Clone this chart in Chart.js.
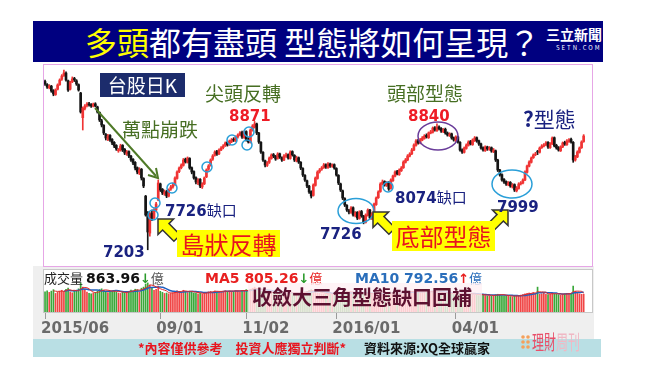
<!DOCTYPE html>
<html>
<head>
<meta charset="utf-8">
<script src="https://cdn.jsdelivr.net/npm/chart.js"></script>
<style>
  body { margin: 0; width: 650px; height: 366px; position: relative; background: #fff; overflow: hidden; font-family: "Noto Sans CJK TC", sans-serif; }
  .abs { position: absolute; white-space: nowrap; }
  .num { font-family: "DejaVu Sans", sans-serif; font-weight: bold; }
  .green { color: #466e22; font-size: 19px; line-height: 19px; }
  .navy { color: #1a2280; }
  .red { color: #ee1c25; }
  .ybox { background: #ffff00; color: #e8141e; font-size: 24px; line-height: 27px; text-align: center; }
</style>
</head>
<body>
<!-- title bar -->
<div class="abs" style="left:33px;top:21px;width:570px;height:41px;background:#000080;"></div>
<div class="abs" style="left:85px;top:21px;height:41px;line-height:41px;font-size:32px;color:#fff;"><span style="color:#ffff00">多頭</span>都有盡頭 型態將如何呈現？</div>
<div class="abs" style="left:546px;top:27px;font-size:14px;line-height:15px;font-weight:bold;color:#fff;">三立新聞</div>
<div class="abs" style="left:556px;top:44px;font-size:6px;line-height:7px;color:#fff;letter-spacing:2px;">SETN.COM</div>

<!-- background panels -->
<div class="abs" style="left:33px;top:266px;width:561px;height:73px;background:#efefef;"></div>
<div class="abs" style="left:43px;top:269px;width:550px;height:44px;background:#fff;"></div>
<div class="abs" style="left:33px;top:339px;width:568px;height:18px;background:#b9dfe4;"></div>

<canvas id="kChart" class="abs" width="547" height="200" style="left:44px;top:65px;"></canvas>
<canvas id="volChart" class="abs" width="569" height="68" style="left:33px;top:270px;"></canvas>

<div class="abs" style="left:43px;top:64px;width:550px;height:203px;border:1px solid #e6a6e6;box-sizing:border-box;"></div>
<div class="abs" style="left:43px;top:269px;width:550px;height:44px;border:1px solid #c8c8c8;box-sizing:border-box;"></div>

<!-- annotations -->
<svg class="abs" width="650" height="366" style="left:0;top:0;">
  <line x1="95" y1="108" x2="156" y2="176" stroke="#4f7a28" stroke-width="2"/>
  <polyline points="148,175 158,178 156,168" fill="none" stroke="#4f7a28" stroke-width="2"/>
  <g fill="none" stroke="#2a9fd8" stroke-width="1.5">
    <circle cx="153" cy="215" r="5"/>
    <circle cx="155" cy="203" r="5"/>
    <circle cx="172" cy="188" r="5"/>
    <circle cx="207" cy="167" r="5"/>
    <circle cx="232" cy="140" r="5"/>
    <circle cx="247" cy="145" r="5"/>
    <circle cx="249" cy="132" r="5"/>
    <circle cx="388" cy="187" r="5"/>
    <ellipse cx="356" cy="211" rx="18" ry="12.5"/>
    <ellipse cx="512" cy="184" rx="20" ry="14"/>
  </g>
  <ellipse cx="438" cy="136" rx="20" ry="14" fill="none" stroke="#6a3d9a" stroke-width="1.5"/>
  <g fill="#ffff00" stroke="#333" stroke-width="1.5">
    <polygon points="0,0 11,11 4.5,11 4.5,27 -4.5,27 -4.5,11 -11,11" transform="translate(158,219) rotate(-45)"/>
    <polygon points="0,0 11,11 4.5,11 4.5,27 -4.5,27 -4.5,11 -11,11" transform="translate(373,212) rotate(-45)"/>
    <polygon points="0,0 11,11 4.5,11 4.5,27 -4.5,27 -4.5,11 -11,11" transform="translate(508,210) rotate(45)"/>
  </g>
  <g fill="#f5a05a">
    <circle cx="523" cy="337" r="1.8"/><circle cx="528" cy="337" r="1.8"/>
    <circle cx="523" cy="342" r="1.8"/><circle cx="528" cy="342" r="1.8"/>
    <circle cx="523" cy="347" r="1.8"/><circle cx="528" cy="347" r="1.8"/>
  </g>
</svg>

<div class="abs" style="left:100px;top:73px;width:85px;height:24px;background:#1c2c6c;color:#fff;font-size:19px;line-height:24px;text-align:center;">台股日K</div>
<div class="abs green" style="left:122px;top:119px;">萬點崩跌</div>
<div class="abs green" style="left:205px;top:83px;">尖頭反轉</div>
<div class="abs green" style="left:387px;top:83px;">頭部型態</div>
<div class="abs num red" style="left:229px;top:107px;font-size:15px;">8871</div>
<div class="abs num red" style="left:408px;top:107px;font-size:15px;">8840</div>
<div class="abs navy" style="left:523px;top:107px;font-size:21px;line-height:22px;"><b>?</b>型態</div>
<div class="abs num navy" style="left:103px;top:243px;font-size:15px;">7203</div>
<div class="abs navy" style="left:165px;top:201px;font-size:15px;line-height:17px;"><span class="num">7726</span>缺口</div>
<div class="abs num navy" style="left:320px;top:225px;font-size:15px;">7726</div>
<div class="abs navy" style="left:395px;top:188px;font-size:15px;line-height:17px;"><span class="num">8074</span>缺口</div>
<div class="abs num navy" style="left:497px;top:198px;font-size:15px;">7999</div>
<div class="abs ybox" style="left:177px;top:230px;width:103px;height:27px;">島狀反轉</div>
<div class="abs ybox" style="left:392px;top:221px;width:103px;height:30px;line-height:30px;">底部型態</div>

<!-- volume header -->
<div class="abs" style="left:44px;top:271px;font-size:13px;line-height:14px;color:#222;">成交量 <span class="num" style="font-size:14px;color:#111;">863.96</span><span class="num" style="color:#2a9a2a;">↓</span><span style="color:#555;">億</span></div>
<div class="abs" style="left:205px;top:271px;font-size:13px;line-height:14px;color:#e82020;"><span class="num" style="font-size:14px;">MA5 805.26</span><span class="num" style="color:#2a9a2a;">↓</span>億</div>
<div class="abs" style="left:355px;top:271px;font-size:13px;line-height:14px;color:#2a6ebb;"><span class="num" style="font-size:14px;">MA10 792.56</span><span class="num" style="color:#e82020;">↑</span>億</div>
<div class="abs" style="left:248px;top:283px;width:234px;height:29px;background:rgba(255,240,244,0.8);"></div>
<div class="abs" style="left:252px;top:285px;font-size:20px;line-height:24px;font-weight:bold;color:#5c1030;">收斂大三角型態缺口回補</div>

<!-- footer -->
<div class="abs" style="left:138px;top:339px;font-size:13px;line-height:18px;font-weight:bold;color:#e8141e;">*內容僅供參考　投資人應獨立判斷*</div>
<div class="abs" style="left:364px;top:339px;font-size:13px;line-height:18px;font-weight:bold;color:#111;">資料來源:XQ全球贏家</div>
<div class="abs" style="left:532px;top:331px;font-size:20px;line-height:22px;transform:scaleX(0.6);transform-origin:left top;"><span style="color:#e8506a;">理財</span><span style="color:#f0b8c4;">周刊</span></div>

<script>
const opens = [9390,9350,9310,9330,9270,9220,9290,9350,9420,9470,
  9500,9400,9290,9390,9430,9400,9350,9240,8920,9040,
  9080,9100,9090,9070,9100,9060,8990,8880,8820,8700,
  8640,8690,8640,8600,8560,8490,8500,8560,8510,8450,
  8480,8420,8380,8340,8270,8200,8250,8130,7900,7680,
  7420,7680,7620,7720,7850,8060,7990,7930,7960,7900,
  7990,8020,8050,8130,8220,8270,8300,8380,8340,8390,
  8270,8220,8140,8070,8120,8020,8060,8150,8250,8300,
  8380,8430,8480,8450,8500,8530,8560,8600,8570,8610,
  8640,8620,8670,8700,8730,8660,8740,8640,8600,8760,
  8800,8840,8720,8600,8470,8360,8300,8340,8390,8440,
  8420,8390,8450,8400,8370,8420,8440,8390,8480,8430,
  8360,8400,8340,8260,8170,8100,8030,7960,7910,8040,
  8130,8220,8250,8270,8310,8270,8320,8290,8310,8260,
  8170,8060,7970,7870,7780,7710,7690,7750,7650,7690,
  7610,7700,7640,7560,7650,7720,7610,7680,7790,7880,
  7960,8060,8090,8040,8080,8000,8100,8160,8220,8180,
  8230,8270,8340,8370,8420,8450,8500,8560,8620,8590,
  8630,8650,8690,8660,8720,8730,8790,8750,8800,8780,
  8740,8770,8720,8690,8710,8660,8620,8670,8600,8500,
  8470,8520,8560,8610,8570,8620,8660,8620,8580,8530,
  8490,8540,8510,8530,8480,8490,8370,8240,8180,8120,
  8090,8050,8080,8020,8050,7970,8000,8060,8070,8110,
  8210,8290,8340,8400,8440,8480,8470,8530,8550,8570,
  8600,8530,8580,8660,8560,8530,8490,8540,8600,8570,
  8610,8640,8600,8370,8410,8470,8530,8610];

const highs = [9410,9365,9350,9340,9285,9295,9360,9425,9480,9540,
  9515,9410,9395,9450,9445,9415,9360,9250,9060,9090,
  9115,9120,9105,9110,9115,9070,8995,8900,8830,8715,
  8705,8700,8650,8610,8570,8520,8575,8570,8520,8495,
  8490,8430,8390,8350,8280,8270,8260,8140,7910,7700,
  7690,7720,7740,7820,8110,8070,8000,7980,7975,7995,
  8040,8070,8150,8230,8280,8320,8390,8395,8410,8400,
  8280,8230,8150,8130,8130,8075,8150,8255,8310,8385,
  8440,8490,8495,8515,8545,8570,8605,8615,8630,8650,
  8660,8685,8710,8740,8745,8750,8750,8660,8775,8830,
  8871,8850,8730,8610,8480,8370,8350,8410,8450,8455,
  8430,8465,8460,8410,8440,8460,8450,8490,8490,8440,
  8420,8410,8350,8270,8180,8110,8040,7970,8060,8150,
  8230,8260,8285,8325,8320,8335,8330,8320,8320,8270,
  8180,8070,7980,7880,7790,7730,7765,7760,7700,7700,
  7710,7715,7650,7670,7735,7730,7685,7810,7890,7970,
  8075,8110,8100,8090,8090,8125,8175,8230,8235,8255,
  8285,8360,8390,8440,8465,8520,8580,8635,8640,8650,
  8675,8700,8710,8735,8755,8800,8805,8840,8815,8790,
  8780,8785,8735,8725,8720,8670,8685,8680,8610,8515,
  8540,8580,8620,8625,8645,8675,8670,8630,8590,8540,
  8555,8550,8545,8540,8520,8500,8380,8250,8190,8130,
  8100,8090,8090,8065,8060,8025,8075,8090,8125,8230,
  8305,8360,8410,8450,8470,8495,8540,8570,8585,8610,
  8610,8595,8670,8670,8575,8545,8555,8605,8615,8635,
  8650,8655,8610,8430,8490,8540,8620,8700];

const lows = [9340,9300,9295,9250,9205,9210,9280,9340,9405,9455,
  9395,9260,9280,9375,9390,9340,9265,8980,8760,9020,
  9060,9070,9055,9060,9060,8980,8870,8800,8700,8630,
  8620,8610,8570,8530,8495,8470,8485,8480,8440,8430,
  8400,8350,8310,8240,8190,8180,8110,8010,7640,7203,
  7380,7580,7600,7700,7840,7960,7920,7910,7880,7890,
  7975,8005,8040,8120,8205,8255,8290,8330,8330,8250,
  8190,8120,8060,8050,8010,8000,8050,8140,8235,8290,
  8365,8420,8430,8440,8490,8515,8545,8550,8560,8595,
  8610,8610,8655,8685,8650,8650,8615,8590,8590,8745,
  8785,8700,8585,8455,8350,8280,8285,8325,8380,8400,
  8365,8380,8390,8350,8360,8405,8380,8380,8420,8350,
  8345,8325,8245,8155,8090,8010,7935,7876,7900,8030,
  8120,8200,8235,8260,8260,8260,8275,8275,8250,8160,
  8050,7960,7855,7765,7700,7670,7675,7640,7630,7595,
  7600,7625,7540,7550,7640,7600,7595,7670,7780,7870,
  7950,8045,8030,8025,7975,7990,8090,8150,8175,8170,
  8220,8260,8330,8360,8410,8440,8490,8550,8575,8580,
  8620,8640,8655,8650,8710,8720,8745,8740,8760,8730,
  8725,8705,8680,8675,8640,8615,8610,8590,8485,8455,
  8460,8510,8550,8565,8560,8610,8600,8560,8510,8485,
  8480,8495,8495,8470,8465,8350,8220,8160,8095,8065,
  8040,8035,8015,8005,7960,7955,7990,8045,8060,8100,
  8200,8280,8330,8390,8425,8440,8460,8520,8540,8555,
  8520,8520,8570,8540,8510,8485,8480,8530,8560,8560,
  8600,8590,8340,8355,8400,8460,8520,8600];

const closes = [9358,9319,9332,9267,9228,9280,9345,9410,9462,9501,
  9410,9280,9384,9423,9410,9358,9280,8994,9046,9072,
  9098,9085,9072,9098,9072,8994,8890,8825,8721,8656,
  8682,8630,8591,8552,8513,8500,8552,8500,8461,8474,
  8422,8370,8331,8266,8214,8240,8136,8032,7655,7434,
  7668,7616,7720,7798,8071,7980,7941,7954,7902,7980,
  8019,8045,8136,8214,8266,8305,8370,8344,8396,8266,
  8214,8136,8084,8110,8032,8058,8136,8240,8292,8370,
  8422,8474,8448,8500,8526,8552,8591,8565,8617,8630,
  8630,8669,8695,8721,8669,8734,8630,8604,8760,8812,
  8838,8721,8604,8474,8370,8305,8331,8396,8435,8422,
  8383,8448,8409,8370,8422,8435,8396,8474,8435,8370,
  8396,8344,8266,8175,8110,8032,7954,7902,8045,8136,
  8214,8240,8266,8305,8279,8318,8292,8305,8266,8175,
  8071,7980,7876,7785,7720,7694,7746,7655,7681,7616,
  7694,7642,7564,7655,7720,7616,7668,7798,7876,7954,
  8058,8084,8045,8071,7993,8110,8162,8214,8188,8240,
  8266,8344,8370,8422,8448,8500,8565,8617,8591,8630,
  8656,8682,8669,8721,8734,8786,8760,8799,8773,8747,
  8760,8721,8695,8708,8656,8630,8669,8604,8500,8474,
  8526,8565,8604,8578,8630,8656,8617,8578,8526,8500,
  8539,8513,8526,8487,8500,8370,8240,8175,8110,8084,
  8058,8071,8032,8045,7980,8006,8058,8071,8110,8214,
  8292,8344,8396,8435,8448,8474,8526,8552,8565,8591,
  8539,8578,8656,8552,8526,8500,8539,8591,8578,8617,
  8630,8604,8370,8409,8474,8526,8604,8682];

// 成交量 (億)
const volumes = [980,1020,950,1010,1080,900,960,1000,1050,990,
  1100,1150,970,930,1010,1050,1120,1380,1200,1100,
  960,900,880,920,950,1010,1080,1120,1050,1000,
  940,980,1000,1040,970,920,900,950,930,980,
  1000,1060,1020,1100,1080,960,1150,1200,1350,1400,
  1300,1150,1050,1100,1250,1000,950,900,920,880,
  900,930,980,1020,1000,960,1050,980,940,1000,
  960,920,900,880,910,870,900,950,980,1000,
  960,1020,980,950,990,1000,1030,970,1010,980,
  1000,1040,1010,980,1050,1000,1080,1020,1100,1150,
  1200,1100,1050,1000,980,940,900,920,960,930,
  900,940,920,880,900,930,910,950,920,890,
  900,880,920,960,980,1000,1050,1080,1000,960,
  920,900,880,860,850,870,840,820,800,850,
  900,940,960,1000,980,950,920,900,880,930,
  900,880,920,870,850,880,860,900,940,980,
  960,920,900,880,900,920,940,900,880,900,
  920,940,960,980,1000,980,960,1000,950,940,
  960,980,1000,960,980,1000,950,940,920,900,
  880,900,920,880,860,850,870,880,920,940,
  900,880,860,840,850,830,820,800,820,840,
  800,780,790,770,800,840,860,830,800,780,
  760,770,750,740,760,780,800,820,840,880,
  900,920,900,940,900,1200,860,880,900,860,
  840,860,900,880,860,840,820,860,880,900,
  900,900,1250,1000,920,880,860,864];

const tickLabels = ['2015/06', '09/01', '11/02', '2016/01', '04/01'];
const tickAt = [0, 55, 96, 139, 196];

// 3 empty slots after the last day, like the reference
const days = Array.from({ length: opens.length + 3 }, (_, i) => i);

const upColor = '#f03434';
const downColor = '#151515';
const candleColors = opens.map((o, i) => closes[i] >= o ? upColor : downColor);
const volColors = opens.map((o, i) => closes[i] >= o ? '#f04545' : '#3aa83a');

const movingAvg = (arr, n) => arr.map((v, i) => {
  if (i < n - 1) return null;
  let s = 0;
  for (let k = i - n + 1; k <= i; k++) s += arr[k];
  return s / n;
});

new Chart(document.getElementById('kChart'), {
  type: 'bar',
  data: {
    labels: days,
    datasets: [
      { data: lows.map((l, i) => [l, highs[i]]), backgroundColor: candleColors, barThickness: 1, grouped: false, order: 2 },
      { data: opens.map((o, i) => [o, closes[i]]), backgroundColor: candleColors, barThickness: 2, grouped: false, order: 1 }
    ]
  },
  options: {
    responsive: false,
    animation: false,
    devicePixelRatio: 1,
    layout: { padding: 0 },
    plugins: { legend: { display: false }, tooltip: { enabled: false } },
    scales: {
      x: { display: false },
      y: { display: false, min: 7005, max: 9605 }
    }
  }
});

new Chart(document.getElementById('volChart'), {
  type: 'bar',
  data: {
    labels: days,
    datasets: [
      { type: 'line', data: movingAvg(volumes, 5), borderColor: '#e02828', borderWidth: 1, pointRadius: 0, tension: 0.3, order: 1 },
      { type: 'line', data: movingAvg(volumes, 10), borderColor: '#2060c0', borderWidth: 1.5, pointRadius: 0, tension: 0.3, order: 2 },
      { data: volumes, backgroundColor: volColors, barPercentage: 0.8, categoryPercentage: 1, order: 3 }
    ]
  },
  options: {
    responsive: false,
    animation: false,
    devicePixelRatio: 1,
    layout: { padding: { left: 11, right: 11, top: 0, bottom: 0 } },
    plugins: { legend: { display: false }, tooltip: { enabled: false } },
    scales: {
      x: {
        offset: true,
        grid: { offset: false, drawOnChartArea: false, drawTicks: true, tickLength: 7, color: '#9a9a9a' },
        border: { display: false },
        ticks: {
          autoSkip: false, minRotation: 0, maxRotation: 0, align: 'start', labelOffset: -4, padding: 1,
          color: '#6a6a6a', font: { family: 'DejaVu Sans', weight: 'bold', size: 15 },
          callback: (v, i) => { const k = tickAt.indexOf(i); return k >= 0 ? tickLabels[k] : null; }
        },
        afterFit: (s) => { s.height = 26; }
      },
      y: { display: false, min: 0, max: 2000 }
    }
  }
});
</script>
</body>
</html>
